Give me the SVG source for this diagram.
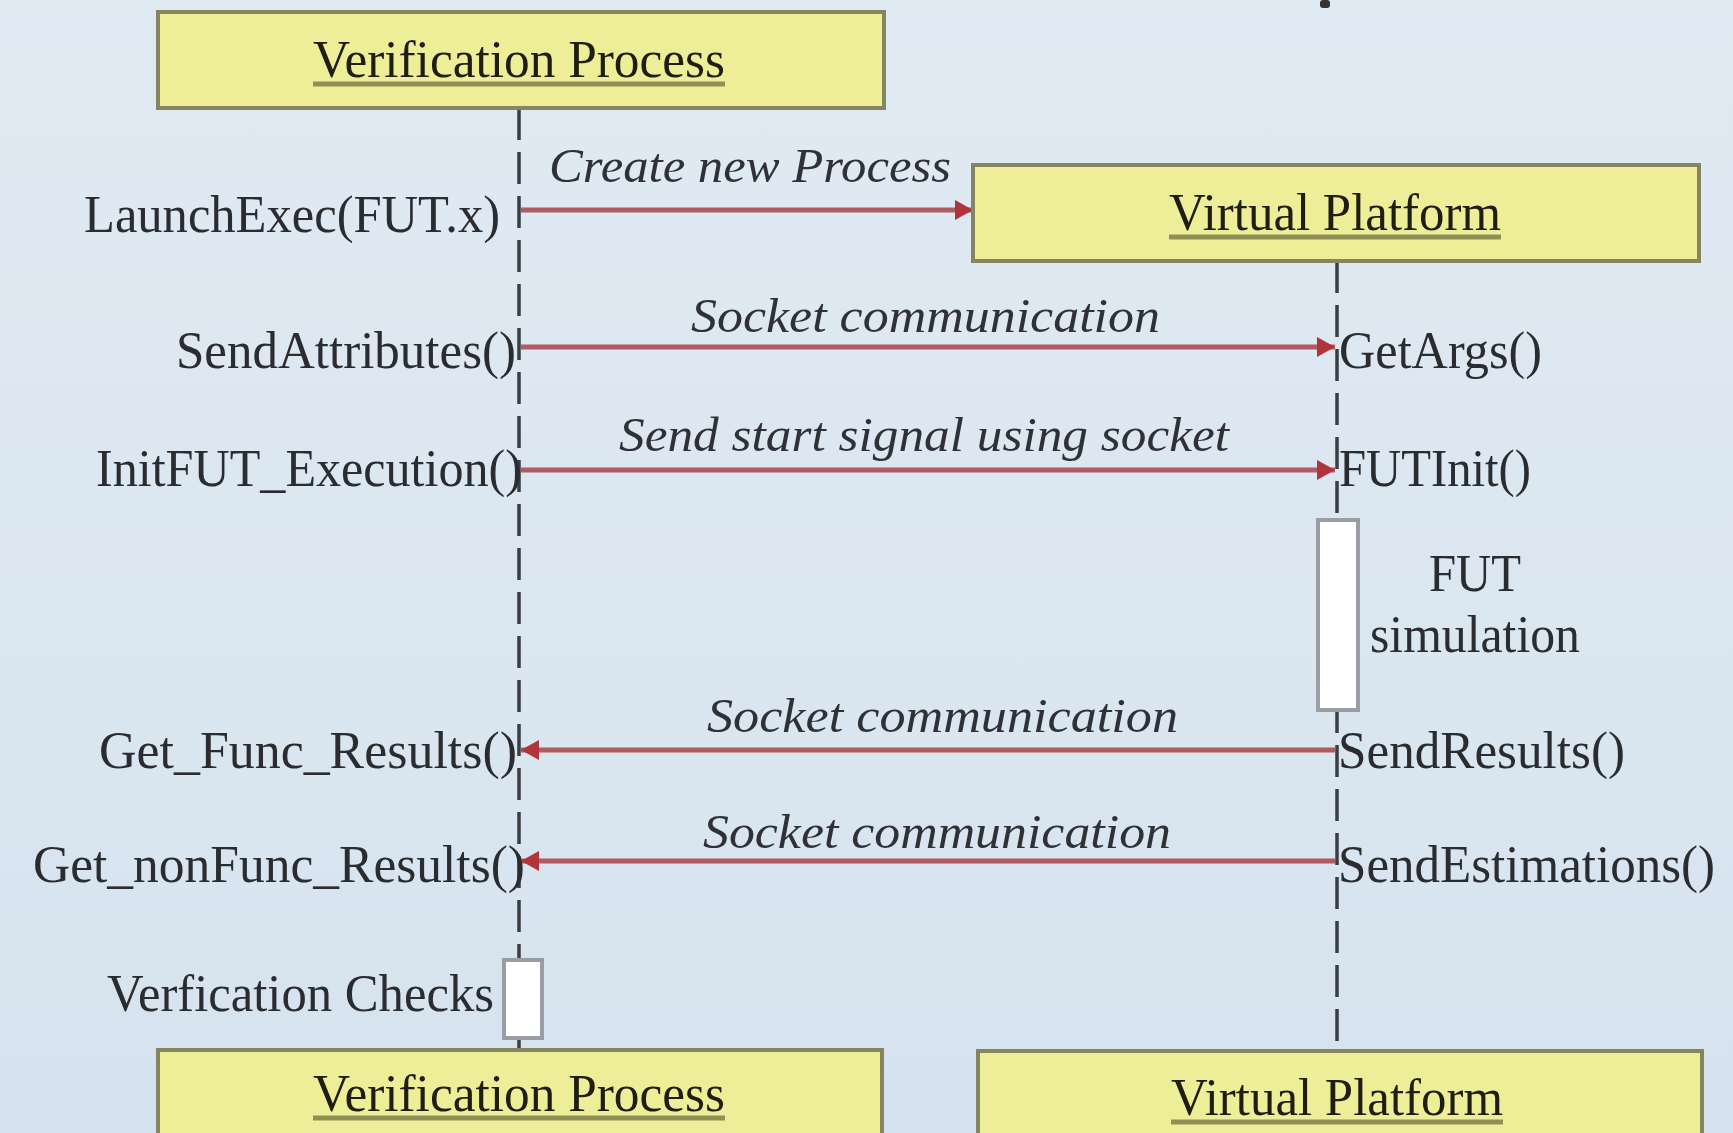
<svg xmlns="http://www.w3.org/2000/svg" width="1733" height="1133" viewBox="0 0 1733 1133">
<defs>
<linearGradient id="bg" x1="0" y1="0" x2="0" y2="1">
<stop offset="0" stop-color="#e0eaf3"/>
<stop offset="1" stop-color="#d6e3ee"/>
</linearGradient>
<marker id="ah" viewBox="0 0 18 20" refX="18" refY="10" markerWidth="18" markerHeight="20" markerUnits="userSpaceOnUse" orient="auto">
<path d="M0,0 L18,10 L0,20 Z" fill="#b0343a"/>
</marker>
<style>
.box{fill:#eeee98;stroke:#85855f;stroke-width:4}
.ttl{font-family:"Liberation Serif",serif;font-size:53px;fill:#1e1e12;text-anchor:middle}
.ul{stroke:#8f8f55;stroke-width:5}
.life{stroke:#3a3d42;stroke-width:3.5;stroke-dasharray:32 12;fill:none}
.msg{stroke:#b05a61;stroke-width:5;fill:none}
.lbl{font-family:"Liberation Serif",serif;font-size:52px;fill:#2a2c30}
.it{font-family:"Liberation Serif",serif;font-size:49px;font-style:italic;fill:#2f3136}
.act{fill:#ffffff;stroke:#9a9ea4;stroke-width:4}
</style>
</defs>
<rect x="0" y="0" width="1733" height="1133" fill="url(#bg)"/>
<rect x="1320" y="0" width="10" height="8" rx="3" fill="#333"/>

<g id="connectors">
<line class="life" x1="519" y1="108" x2="519" y2="1050"/>
<line class="life" x1="1337" y1="261" x2="1337" y2="1050"/>
<line class="msg" x1="521" y1="210" x2="973" y2="210" marker-end="url(#ah)"/>
<line class="msg" x1="521" y1="347" x2="1335" y2="347" marker-end="url(#ah)"/>
<line class="msg" x1="521" y1="470" x2="1335" y2="470" marker-end="url(#ah)"/>
<line class="msg" x1="1335" y1="750" x2="521" y2="750" marker-end="url(#ah)"/>
<line class="msg" x1="1335" y1="861" x2="521" y2="861" marker-end="url(#ah)"/>
</g>

<g id="vp-top">
<rect class="box" x="158" y="12" width="726" height="96"/>
<text class="ttl" x="519" y="77" textLength="412" lengthAdjust="spacingAndGlyphs">Verification Process</text>
<line class="ul" x1="313" y1="84" x2="725" y2="84"/>
</g>
<g id="vplat-top">
<rect class="box" x="973" y="165" width="726" height="96"/>
<text class="ttl" x="1335" y="230" textLength="332" lengthAdjust="spacingAndGlyphs">Virtual Platform</text>
<line class="ul" x1="1169" y1="237" x2="1501" y2="237"/>
</g>
<g id="vp-bottom">
<rect class="box" x="158" y="1050" width="724" height="96"/>
<text class="ttl" x="519" y="1111" textLength="412" lengthAdjust="spacingAndGlyphs">Verification Process</text>
<line class="ul" x1="313" y1="1118" x2="725" y2="1118"/>
</g>
<g id="vplat-bottom">
<rect class="box" x="978" y="1051" width="724" height="96"/>
<text class="ttl" x="1337" y="1115" textLength="332" lengthAdjust="spacingAndGlyphs">Virtual Platform</text>
<line class="ul" x1="1171" y1="1122" x2="1503" y2="1122"/>
</g>

<g id="fut-activation">
<rect class="act" x="1318" y="520" width="40" height="190"/>
<text class="lbl" x="1475" y="591" text-anchor="middle" textLength="92" lengthAdjust="spacingAndGlyphs">FUT</text>
<text class="lbl" x="1475" y="652" text-anchor="middle" textLength="210" lengthAdjust="spacingAndGlyphs">simulation</text>
</g>
<g id="verification-checks">
<rect class="act" x="504" y="960" width="38" height="78"/>
<text class="lbl" x="107" y="1011" textLength="387" lengthAdjust="spacingAndGlyphs">Verfication  Checks</text>
</g>

<g id="msg-labels">
<text class="lbl" x="84" y="232" textLength="416" lengthAdjust="spacingAndGlyphs">LaunchExec(FUT.x)</text>
<text class="it" x="549" y="182" textLength="402" lengthAdjust="spacingAndGlyphs">Create new Process</text>

<text class="lbl" x="176" y="368" textLength="340" lengthAdjust="spacingAndGlyphs">SendAttributes()</text>
<text class="it" x="691" y="332" textLength="469" lengthAdjust="spacingAndGlyphs">Socket communication</text>
<text class="lbl" x="1339" y="368" textLength="203" lengthAdjust="spacingAndGlyphs">GetArgs()</text>

<text class="lbl" x="96" y="486" textLength="426" lengthAdjust="spacingAndGlyphs">InitFUT_Execution()</text>
<text class="it" x="619" y="451" textLength="610" lengthAdjust="spacingAndGlyphs">Send start signal using socket</text>
<text class="lbl" x="1339" y="486" textLength="192" lengthAdjust="spacingAndGlyphs">FUTInit()</text>

<text class="lbl" x="99" y="768" textLength="418" lengthAdjust="spacingAndGlyphs">Get_Func_Results()</text>
<text class="it" x="707" y="732" textLength="471" lengthAdjust="spacingAndGlyphs">Socket communication</text>
<text class="lbl" x="1338" y="768" textLength="287" lengthAdjust="spacingAndGlyphs">SendResults()</text>

<text class="lbl" x="33" y="882" textLength="492" lengthAdjust="spacingAndGlyphs">Get_nonFunc_Results()</text>
<text class="it" x="703" y="848" textLength="468" lengthAdjust="spacingAndGlyphs">Socket communication</text>
<text class="lbl" x="1338" y="882" textLength="377" lengthAdjust="spacingAndGlyphs">SendEstimations()</text>
</g>
</svg>
